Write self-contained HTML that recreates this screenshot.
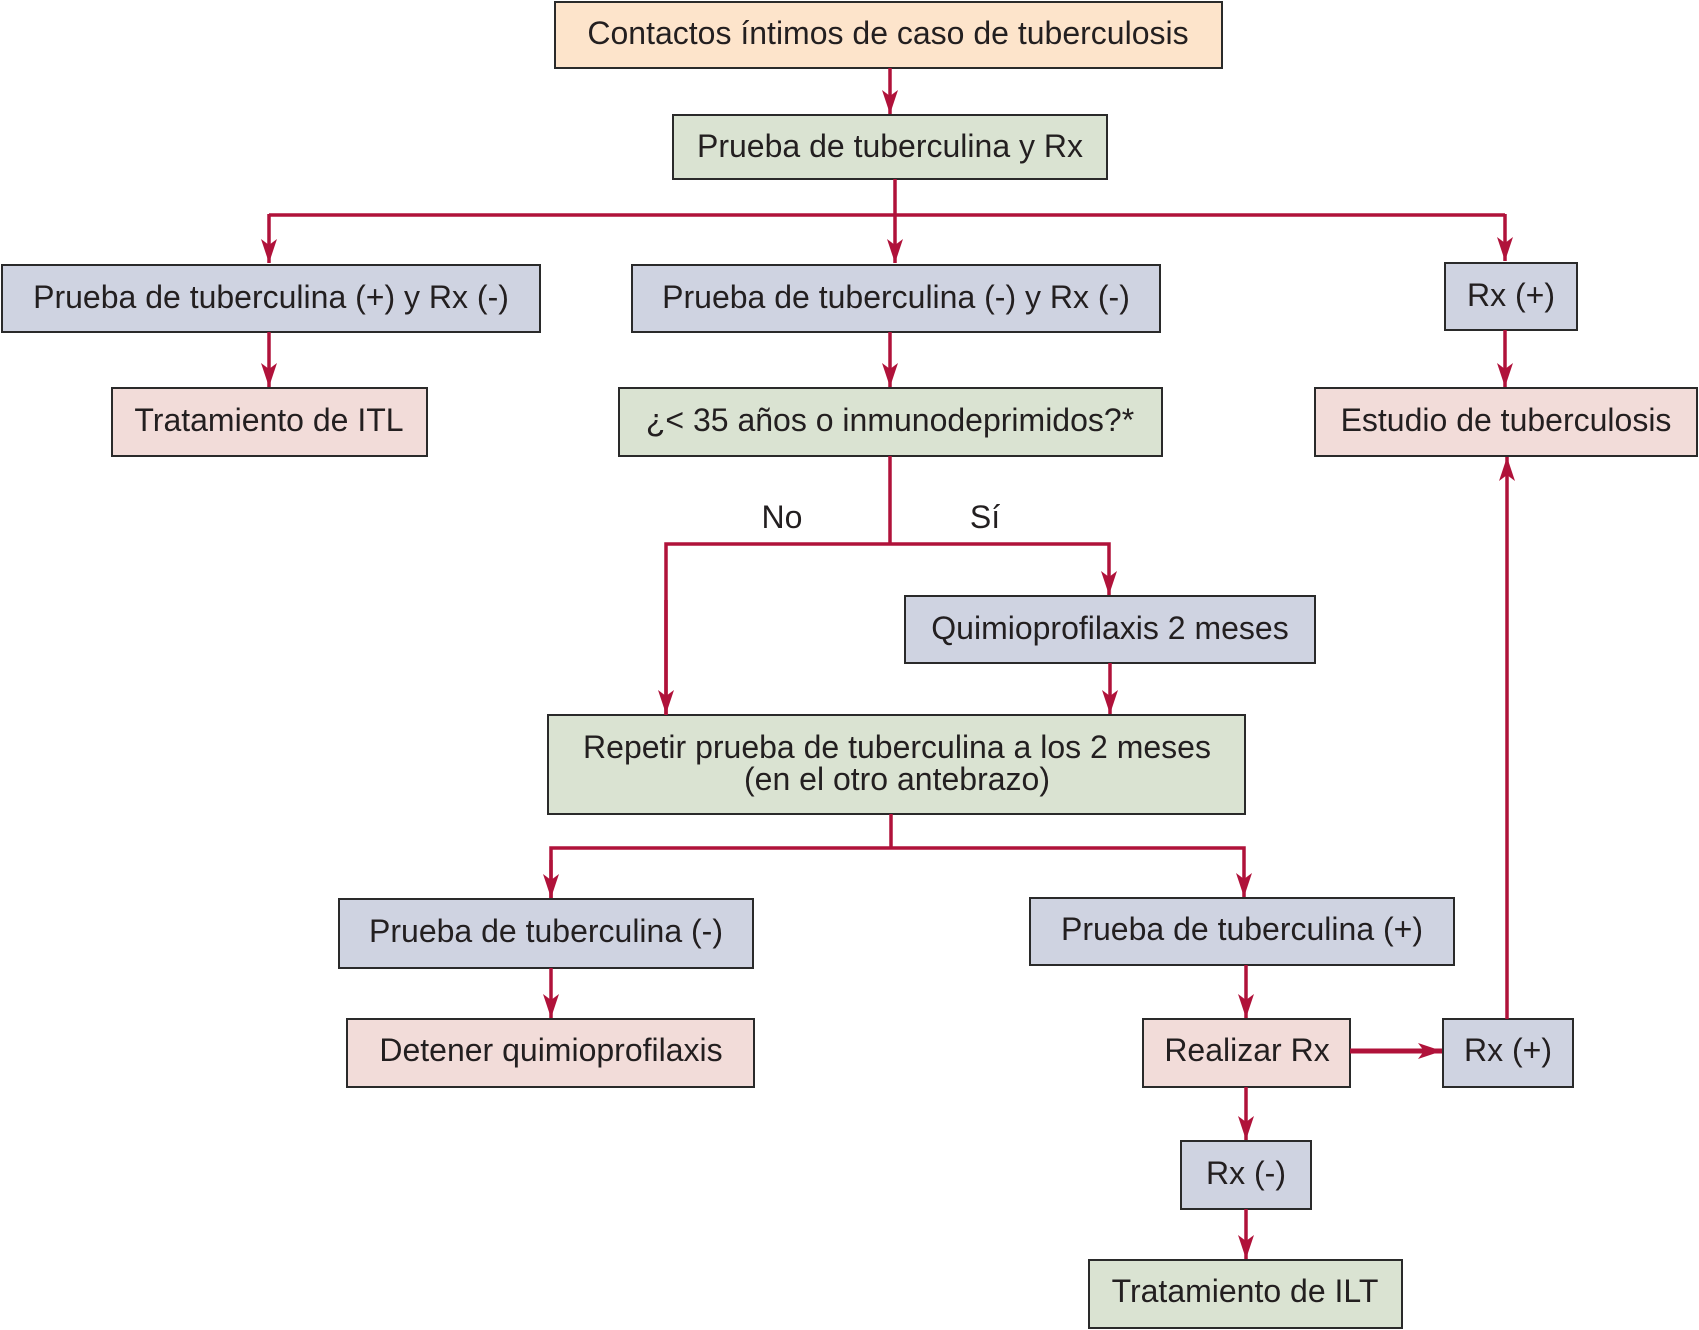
<!DOCTYPE html>
<html><head><meta charset="utf-8"><style>
html,body{margin:0;padding:0;background:#fff;}
svg{display:block}
text{font-family:"Liberation Sans Narrow","Liberation Sans",sans-serif;font-size:32px;fill:#231f20;text-anchor:middle;dominant-baseline:central}
rect{stroke:#2a2a2a;stroke-width:2}
.l{stroke:#b0123a;stroke-width:3.5;fill:none}
</style></head><body>
<svg width="1699" height="1330" viewBox="0 0 1699 1330" xmlns="http://www.w3.org/2000/svg">
<defs>
<marker id="a" viewBox="0 0 24 16" refX="24" refY="8" markerWidth="24" markerHeight="16" markerUnits="userSpaceOnUse" orient="auto">
<path d="M0,0 L24,8 L0,16 L6,8 Z" fill="#b0123a"/>
</marker>
</defs>
<rect x="555" y="2" width="667" height="66" fill="#fde4cb"/>
<text x="888" y="33">Contactos íntimos de caso de tuberculosis</text>
<rect x="673" y="115" width="434" height="64" fill="#dae3d2"/>
<text x="890" y="146">Prueba de tuberculina y Rx</text>
<rect x="2" y="265" width="538" height="67" fill="#cfd3e1"/>
<text x="271" y="297">Prueba de tuberculina (+) y Rx (-)</text>
<rect x="632" y="265" width="528" height="67" fill="#cfd3e1"/>
<text x="896" y="297">Prueba de tuberculina (-) y Rx (-)</text>
<rect x="1445" y="263" width="132" height="67" fill="#cfd3e1"/>
<text x="1511" y="295">Rx (+)</text>
<rect x="112" y="388" width="315" height="68" fill="#f2dcd9"/>
<text x="269" y="420">Tratamiento de ITL</text>
<rect x="619" y="388" width="543" height="68" fill="#dae3d2"/>
<text x="890" y="420">¿&lt; 35 años o inmunodeprimidos?*</text>
<rect x="1315" y="388" width="382" height="68" fill="#f2dcd9"/>
<text x="1506" y="420">Estudio de tuberculosis</text>
<rect x="905" y="596" width="410" height="67" fill="#cfd3e1"/>
<text x="1110" y="628">Quimioprofilaxis 2 meses</text>
<rect x="548" y="715" width="697" height="99" fill="#dae3d2"/>
<text x="897" y="747">Repetir prueba de tuberculina a los 2 meses</text>
<text x="897" y="779">(en el otro antebrazo)</text>
<rect x="339" y="899" width="414" height="69" fill="#cfd3e1"/>
<text x="546" y="931">Prueba de tuberculina (-)</text>
<rect x="1030" y="898" width="424" height="67" fill="#cfd3e1"/>
<text x="1242" y="929">Prueba de tuberculina (+)</text>
<rect x="347" y="1019" width="407" height="68" fill="#f2dcd9"/>
<text x="551" y="1050">Detener quimioprofilaxis</text>
<rect x="1143" y="1019" width="207" height="68" fill="#f2dcd9"/>
<text x="1247" y="1050">Realizar Rx</text>
<rect x="1443" y="1019" width="130" height="68" fill="#cfd3e1"/>
<text x="1508" y="1050">Rx (+)</text>
<rect x="1181" y="1141" width="130" height="68" fill="#cfd3e1"/>
<text x="1246" y="1173">Rx (-)</text>
<rect x="1089" y="1260" width="313" height="68" fill="#dae3d2"/>
<text x="1245" y="1291">Tratamiento de ILT</text>
<text x="782" y="517">No</text>
<text x="985" y="517">Sí</text>
<path class="l" d="M890,68 V114" marker-end="url(#a)"/>
<path class="l" d="M895,179 V215"/>
<path class="l" d="M269,215 H1505"/>
<path class="l" d="M269,214 V263" marker-end="url(#a)"/>
<path class="l" d="M895,214 V263" marker-end="url(#a)"/>
<path class="l" d="M1505,214 V261" marker-end="url(#a)"/>
<path class="l" d="M269,332 V387" marker-end="url(#a)"/>
<path class="l" d="M890,332 V387" marker-end="url(#a)"/>
<path class="l" d="M1505,330 V387" marker-end="url(#a)"/>
<path class="l" d="M890,456 V544"/>
<path class="l" d="M666,715 V544 H1109 V595" marker-end="url(#a)"/>
<path class="l" d="M666,600 V714" marker-end="url(#a)"/>
<path class="l" d="M1110,663 V714" marker-end="url(#a)"/>
<path class="l" d="M891,814 V848"/>
<path class="l" d="M551,898 V848 H1244 V897" marker-end="url(#a)"/>
<path class="l" d="M551,860 V898" marker-end="url(#a)"/>
<path class="l" d="M551,968 V1018" marker-end="url(#a)"/>
<path class="l" d="M1246,965 V1018" marker-end="url(#a)"/>
<path class="l" style="stroke-width:5" d="M1350,1051 H1442" marker-end="url(#a)"/>
<path class="l" d="M1507,1019 V457" marker-end="url(#a)"/>
<path class="l" d="M1246,1087 V1140" marker-end="url(#a)"/>
<path class="l" d="M1246,1209 V1259" marker-end="url(#a)"/>
</svg>
</body></html>
